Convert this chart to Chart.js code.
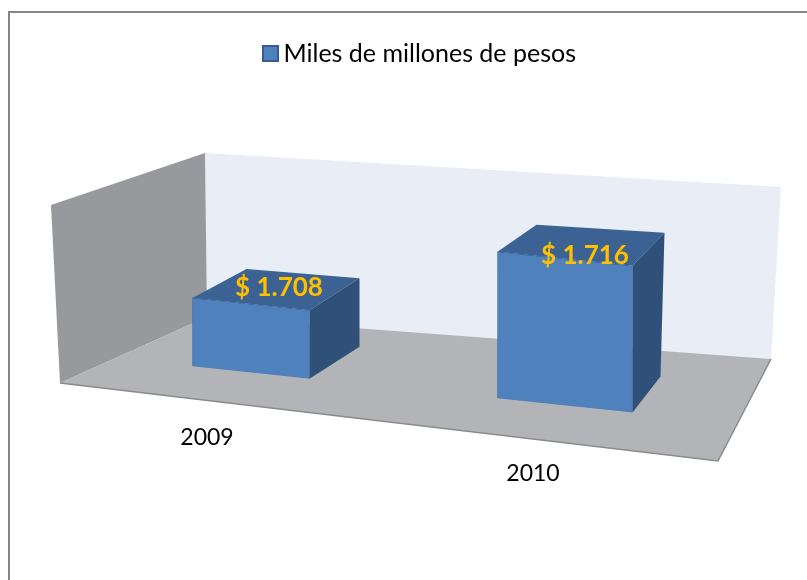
<!DOCTYPE html>
<html lang="es">
<head>
<meta charset="utf-8">
<title>Miles de millones de pesos</title>
<script src="https://cdn.jsdelivr.net/npm/chart.js@4"></script>
<style>
    html, body { margin: 0; padding: 0; background: #fff; }
    #wrap { position: relative; width: 807px; height: 580px; overflow: hidden; }
</style>
</head>
<body>
<div id="wrap"><canvas id="chart" width="807" height="580"></canvas></div>
<script>
const categories = ['2009', '2010'];
const seriesName = 'Miles de millones de pesos';
const values = [1708, 1716];
const valueLabels = ['$ 1.708', '$ 1.716'];
const axisMin = 1701;
const axisMax = 1733;

// look of the fake 3D scene (not data)
const SHEAR = 0.105;
const SHEAR_X0 = 408;
const barWidths = [117, 135];
// how far the back corners sit from the front ones, per box
const backTopLeft = [[54, -29], [39, -27]];
const backTopRight = [[50, -32], [32, -33]];
const backBaseRight = [[50, -32], [28, -36]];
const labelDx = [28, 20];
const labelDy = [-16, -3];
const tickDx = [-44, -32];
const tickY = [438, 474];
const FONT = "Lato, 'Open Sans', sans-serif";

const leftWall = [[51, 205], [205, 153], [207, 317], [60, 383]];
const backWall = [[205, 153], [781, 187], [771, 359], [207, 317]];
const floor = [[207, 317], [771, 359], [718, 461], [60, 383]];

function polygon(ctx, pts, fill) {
    ctx.beginPath();
    pts.forEach((p, i) => i ? ctx.lineTo(p[0], p[1]) : ctx.moveTo(p[0], p[1]));
    ctx.closePath();
    ctx.fillStyle = fill;
    ctx.fill();
}

function sheared(x, y) {
    return [x, y + SHEAR * (x - SHEAR_X0)];
}

function moved(p, d) {
    return [p[0] + d[0], p[1] + d[1]];
}

// legend swatch, a canvas so the gap to the text can stay small
function legendSwatch() {
    const c = document.createElement('canvas');
    c.width = 17;
    c.height = 17;
    const g = c.getContext('2d');
    g.fillStyle = '#4f81bd';
    g.fillRect(0, 0, 17, 17);
    g.strokeStyle = '#385d8a';
    g.lineWidth = 2;
    g.strokeRect(1, 1, 15, 15);
    return c;
}

const scene3d = {
    id: 'scene3d',
    beforeDatasetsDraw(chart) {
        const ctx = chart.ctx;
        // chart frame, only top and left show
        ctx.save();
        ctx.strokeStyle = '#868686';
        ctx.lineWidth = 2;
        ctx.beginPath();
        ctx.moveTo(9, 580);
        ctx.lineTo(9, 12);
        ctx.lineTo(807, 12);
        ctx.stroke();

        polygon(ctx, backWall, '#e8edf6');
        polygon(ctx, leftWall, '#98999c');
        polygon(ctx, floor, '#b2b4b8');
        ctx.strokeStyle = '#8a8a8a';
        ctx.lineWidth = 1.5;
        ctx.beginPath();
        ctx.moveTo(60, 383);
        ctx.lineTo(718, 461);
        ctx.lineTo(771, 359);
        ctx.stroke();
        ctx.restore();

        // top and side of each box, from the bar elements
        values.forEach((v, i) => {
            const bar = chart.getDatasetMeta(i).data[i];
            const half = bar.width / 2;
            const tl = sheared(bar.x - half, bar.y);
            const tr = sheared(bar.x + half, bar.y);
            const br = sheared(bar.x + half, bar.base);
            const backTr = moved(tr, backTopRight[i]);
            polygon(ctx, [tl, tr, backTr, moved(tl, backTopLeft[i])], '#3b6292');
            polygon(ctx, [tr, br, moved(br, backBaseRight[i]), backTr], '#2f5179');
        });
    },
    beforeDatasetDraw(chart) {
        const ctx = chart.ctx;
        ctx.save();
        ctx.transform(1, SHEAR, 0, 1, 0, -SHEAR * SHEAR_X0);
    },
    afterDatasetDraw(chart) {
        chart.ctx.restore();
    },
    afterDatasetsDraw(chart) {
        const ctx = chart.ctx;
        ctx.save();
        ctx.textAlign = 'center';
        ctx.textBaseline = 'middle';
        values.forEach((v, i) => {
            const bar = chart.getDatasetMeta(i).data[i];
            const top = sheared(bar.x, bar.y);
            ctx.font = 'bold 26px ' + FONT;
            ctx.fillStyle = '#ffc000';
            ctx.fillText(valueLabels[i], top[0] + labelDx[i], top[1] + labelDy[i]);
            ctx.font = '23px ' + FONT;
            ctx.fillStyle = '#000';
            ctx.fillText(categories[i], chart.scales.x.getPixelForTick(i) + tickDx[i], tickY[i]);
        });
        ctx.restore();
    }
};

new Chart(document.getElementById('chart'), {
    type: 'bar',
    data: {
        labels: categories,
        datasets: values.map((v, i) => ({
            label: seriesName,
            data: values.map((w, j) => (j === i ? w : null)),
            base: axisMin,
            grouped: false,
            barThickness: barWidths[i],
            backgroundColor: '#4f81bd',
            borderColor: '#3f6ea6',
            borderWidth: 1,
            clip: false
        }))
    },
    options: {
        responsive: false,
        animation: false,
        layout: { padding: { left: 94, right: 55, top: 31, bottom: 191 } },
        scales: {
            x: { display: false },
            y: {
                position: 'right',
                min: axisMin,
                max: axisMax,
                ticks: { display: false },
                grid: { display: false },
                border: { display: false },
                afterFit(scale) { scale.width = 30; }
            }
        },
        plugins: {
            tooltip: { enabled: false },
            legend: {
                position: 'top',
                labels: {
                    color: '#000',
                    font: { family: FONT, size: 25 },
                    usePointStyle: true,
                    pointStyle: legendSwatch(),
                    pointStyleWidth: 1,
                    boxHeight: 17,
                    filter: item => item.datasetIndex === 0
                }
            }
        }
    },
    plugins: [scene3d]
});
</script>
</body>
</html>
